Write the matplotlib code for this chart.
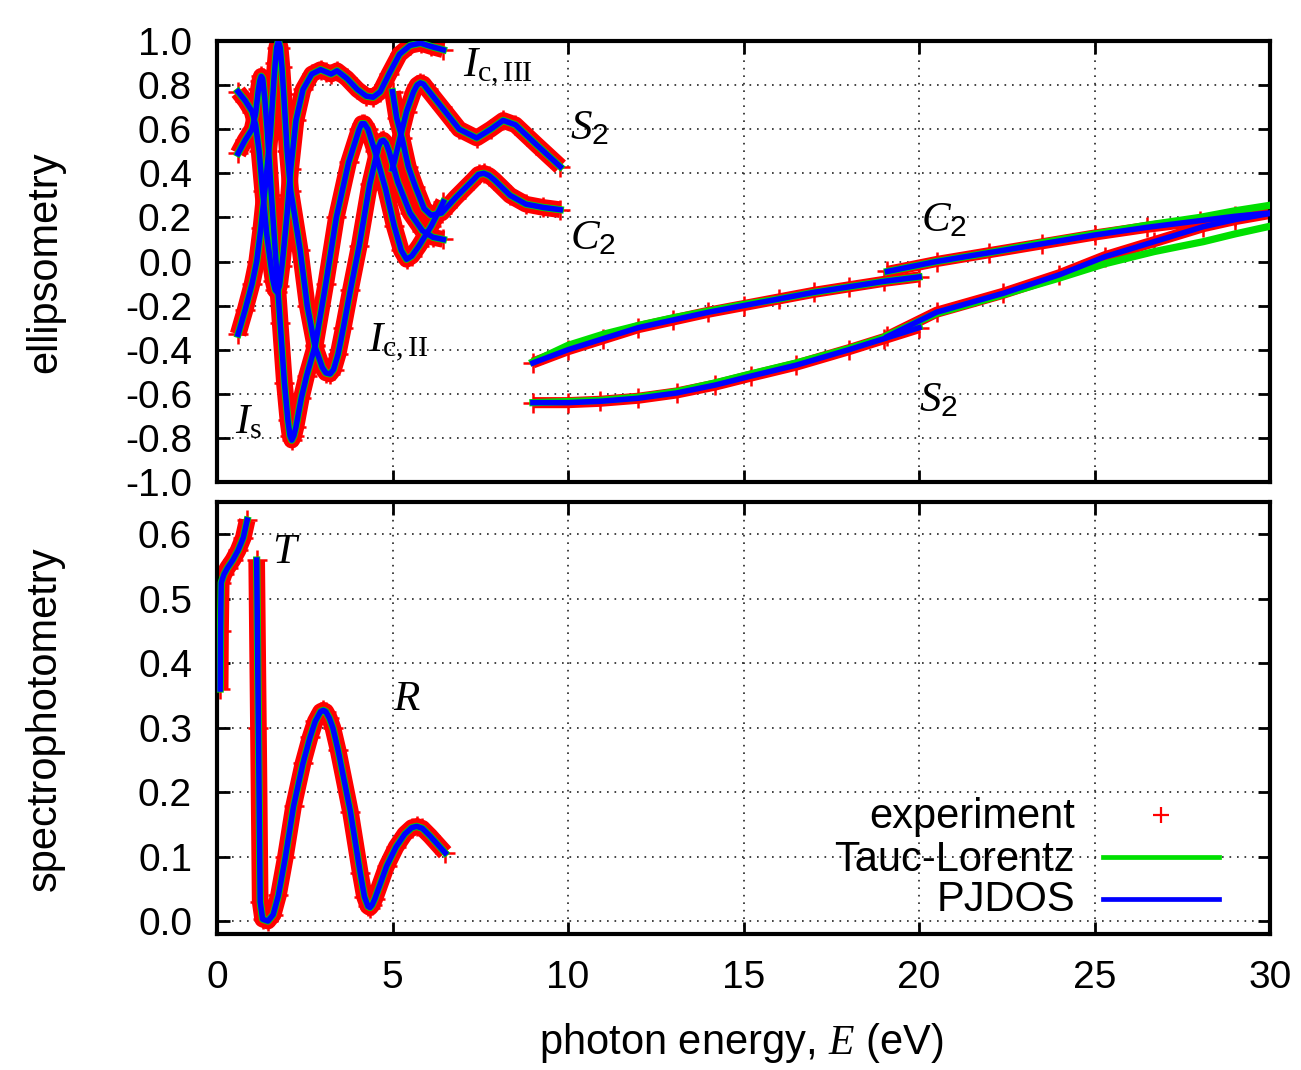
import matplotlib
matplotlib.use("Agg")
import matplotlib.pyplot as plt
from matplotlib.lines import Line2D

plt.rcParams['font.family'] = ['Liberation Sans', 'DejaVu Sans']
plt.rcParams['mathtext.fontset'] = 'custom'
plt.rcParams['mathtext.it'] = 'Liberation Serif:italic'
plt.rcParams['mathtext.rm'] = 'Liberation Serif'
plt.rcParams['mathtext.sf'] = 'Liberation Sans'

# ---- ellipsometry, low energy group (eV, value) ----
e_Is = [0.6, 0.8, 1.0, 1.1, 1.18, 1.22, 1.26, 1.3, 1.36, 1.43, 1.55, 1.68, 1.8, 1.92, 2.02,
        2.08, 2.13, 2.19, 2.25, 2.4, 2.55, 2.8, 3.1, 3.4, 3.75, 4.05, 4.12, 4.2, 4.3, 4.5,
        4.8, 5.05, 5.25, 5.4, 5.55, 5.75, 6.1, 6.45]
Is = [0.49, 0.55, 0.6, 0.67, 0.78, 0.82, 0.84, 0.83, 0.74, 0.6, 0.3, 0.0, -0.28, -0.55, -0.72,
      -0.79, -0.81, -0.79, -0.75, -0.62, -0.52, -0.38, -0.1, 0.2, 0.45, 0.6, 0.625, 0.625, 0.6,
      0.5, 0.33, 0.16, 0.05, 0.01, 0.025, 0.07, 0.16, 0.27]

e_Ic2 = [0.6, 0.8, 1.0, 1.13, 1.25, 1.4, 1.52, 1.62, 1.66, 1.7, 1.75, 1.8, 1.85, 1.9, 2.0,
         2.1, 2.37, 2.57, 2.79, 3.0, 3.1, 3.22, 3.32, 3.45, 3.6, 3.8, 4.05, 4.35, 4.6, 4.67,
         4.74, 4.82, 4.9, 5.15, 5.5, 5.85, 6.15, 6.45]
Ic2 = [-0.33, -0.22, -0.1, 0.0, 0.15, 0.38, 0.58, 0.82, 0.9, 0.97, 1.0, 0.97, 0.88, 0.76, 0.5,
       0.32, 0.05, -0.2, -0.385, -0.48, -0.505, -0.51, -0.49, -0.42, -0.3, -0.13, 0.07, 0.35,
       0.52, 0.545, 0.55, 0.535, 0.5, 0.36, 0.22, 0.14, 0.11, 0.10]

e_Ic3 = [0.6, 0.8, 1.0, 1.1, 1.2, 1.3, 1.42, 1.52, 1.6, 1.66, 1.72, 1.78, 1.85, 1.92, 2.0,
         2.1, 2.25, 2.45, 2.7, 2.95, 3.1, 3.25, 3.42, 3.7, 4.0, 4.25, 4.45, 4.65, 4.9, 5.2,
         5.5, 5.8, 6.1, 6.45]
Ic3 = [0.77, 0.73, 0.68, 0.62, 0.5, 0.32, 0.12, 0.0, -0.09, -0.13, -0.14, -0.11, -0.02, 0.09,
       0.22, 0.42, 0.64, 0.78, 0.85, 0.87, 0.86, 0.85, 0.865, 0.83, 0.78, 0.75, 0.745, 0.77,
       0.85, 0.94, 0.98, 0.99, 0.975, 0.96]

e_S2a = [5.0, 5.2, 5.4, 5.6, 5.7, 5.79, 5.88, 6.0, 6.4, 6.9, 7.4, 7.8, 8.15, 8.5, 9.1, 9.78]
S2a = [0.42, 0.55, 0.68, 0.77, 0.8, 0.81, 0.805, 0.78, 0.7, 0.6, 0.56, 0.6, 0.64, 0.62,
       0.53, 0.43]

e_C2a = [5.0, 5.12, 5.27, 5.45, 5.65, 5.9, 6.1, 6.4, 6.8, 7.3, 7.45, 7.6, 7.75, 7.9, 8.35,
         8.8, 9.3, 9.78]
C2a = [0.77, 0.65, 0.56, 0.43, 0.34, 0.24, 0.21, 0.22, 0.29, 0.37, 0.395, 0.40, 0.39, 0.37,
       0.3, 0.26, 0.245, 0.235]

# ---- ellipsometry, high energy group ----
e_C2b = [9.0, 10, 11, 12, 13, 14, 15, 16, 17, 18, 19, 20]
C2b = [-0.46, -0.40, -0.35, -0.30, -0.265, -0.23, -0.20, -0.17, -0.14, -0.115, -0.09, -0.07]
C2b_tl = [-0.455, -0.38, -0.33, -0.29, -0.255, -0.225, -0.195, -0.17, -0.14, -0.115, -0.09, -0.07]

e_C2c = [19.1, 20.5, 22.0, 23.5, 25.0, 26.5, 28.0, 29.0, 30.0]
C2c = [-0.045, 0.0, 0.04, 0.08, 0.12, 0.155, 0.185, 0.205, 0.22]
C2c_tl = [-0.045, 0.0, 0.04, 0.085, 0.125, 0.165, 0.2, 0.23, 0.255]

e_S2b = [9.0, 10.0, 10.9, 12.0, 13.1, 14.2, 15.2, 16.5, 18.0, 19.0, 20.0]
S2b = [-0.64, -0.64, -0.634, -0.62, -0.596, -0.56, -0.52, -0.47, -0.40, -0.35, -0.30]
S2b_tl = [-0.64, -0.635, -0.63, -0.615, -0.59, -0.55, -0.51, -0.46, -0.395, -0.345, -0.295]

e_S2c = [19.1, 20.5, 22.4, 24.0, 25.3, 26.7, 28.1, 29.0, 30.0]
S2c = [-0.34, -0.23, -0.144, -0.06, 0.022, 0.09, 0.158, 0.19, 0.218]
S2c_tl = [-0.335, -0.235, -0.15, -0.075, -0.01, 0.045, 0.09, 0.125, 0.16]

# ---- spectrophotometry ----
e_T = [0.09, 0.1, 0.12, 0.2, 0.3, 0.45, 0.6, 0.75, 0.86]
T = [0.36, 0.45, 0.525, 0.538, 0.548, 0.56, 0.575, 0.595, 0.622]

e_R = [1.13, 1.18, 1.23, 1.3, 1.45, 1.6, 1.75, 1.95, 2.18, 2.45, 2.65, 2.8, 2.95, 3.03, 3.1,
       3.2, 3.3, 3.45, 3.8, 4.08, 4.2, 4.3, 4.36, 4.42, 4.5, 4.83, 5.1, 5.35, 5.55, 5.69, 5.85,
       6.07, 6.5]
R = [0.56, 0.3, 0.03, 0.003, 0.0, 0.01, 0.04, 0.10, 0.178, 0.245, 0.285, 0.31, 0.325, 0.327,
     0.325, 0.315, 0.3, 0.265, 0.17, 0.075, 0.038, 0.023, 0.021, 0.025, 0.035, 0.085, 0.115,
     0.135, 0.145, 0.147, 0.144, 0.132, 0.106]

RED, GREEN, BLUE = '#ff0000', '#00e000', '#0000ff'


def draw(ax, e, y, y_tl=None, band=12):
    ax.plot(e, y, color=RED, lw=band, solid_capstyle='butt', solid_joinstyle='round', zorder=2)
    ax.plot(e, y, ls='none', marker='+', ms=14, mew=1.8, color=RED, zorder=2)
    ax.plot(e, y if y_tl is None else y_tl, color=GREEN, lw=5.2,
            solid_joinstyle='round', zorder=3)
    ax.plot(e, y, color=BLUE, lw=4.0, solid_joinstyle='round', zorder=4)


def style(ax):
    for s in ax.spines.values():
        s.set_linewidth(3)
    ax.tick_params(direction='in', length=9, width=2, top=True, right=True,
                   labelsize=28)
    ax.tick_params(axis='y', pad=18)
    ax.tick_params(axis='x', pad=19)
    ax.grid(True, color='#222222', lw=1.2, ls=(0, (1, 3.5)))
    ax.set_axisbelow(True)
    ax.set_xlim(0, 30)
    ax.set_xticks(range(0, 31, 5))


fig = plt.figure(figsize=(13.01, 10.70), dpi=100)
ax1 = fig.add_axes([0.1668, 0.5495, 0.8094, 0.4122])
ax2 = fig.add_axes([0.1668, 0.1271, 0.8094, 0.4037])

for e, y in [(e_Is, Is), (e_Ic2, Ic2), (e_Ic3, Ic3), (e_S2a, S2a), (e_C2a, C2a)]:
    draw(ax1, e, y)
draw(ax1, e_C2b, C2b, C2b_tl, band=8)
draw(ax1, e_C2c, C2c, C2c_tl, band=8)
draw(ax1, e_S2b, S2b, S2b_tl, band=8)
draw(ax1, e_S2c, S2c, S2c_tl, band=8)

style(ax1)
ax1.set_ylim(-1.0, 1.0)
ax1.set_yticks([i / 10 for i in range(-10, 11, 2)])
ax1.set_yticklabels([f'{i / 10:.1f}' for i in range(-10, 11, 2)])
ax1.tick_params(labelbottom=False)

lab = dict(fontsize=31, va='baseline', ha='left', zorder=6)
ax1.text(7.0, 0.84, r'$I_{\mathrm{c,III}}$', **lab)
ax1.text(10.07, 0.555, r'$S_{\mathsf{2}}$', **lab)
ax1.text(10.07, 0.055, r'$C_{\mathsf{2}}$', **lab)
ax1.text(4.3, -0.41, r'$I_{\mathrm{c,II}}$', **lab)
ax1.text(0.5, -0.78, r'$I_{\mathrm{s}}$', **lab)
ax1.text(20.05, 0.136, r'$C_{\mathsf{2}}$', **lab)
ax1.text(20.0, -0.68, r'$S_{\mathsf{2}}$', **lab)

draw(ax2, e_T, T)
draw(ax2, e_R, R)
style(ax2)
ax2.set_ylim(-0.02, 0.65)
ax2.set_yticks([i / 10 for i in range(0, 7)])
ax2.set_yticklabels([f'{i / 10:.1f}' for i in range(0, 7)])
ax2.text(1.57, 0.556, r'$T$', **lab)
ax2.text(5.02, 0.327, r'$R$', **lab)

# legend, gnuplot style: right aligned text, sample to the right
tf = ax2.transAxes
for yb, name in [(0.245, 'experiment'), (0.146, 'Tauc-Lorentz'), (0.053, 'PJDOS')]:
    ax2.text(0.8148, yb, name, transform=tf, ha='right', va='baseline', fontsize=30)
ax2.add_line(Line2D([0.8965], [0.2755], transform=tf, ls='none', marker='+', ms=11,
                    mew=1.6, color=RED))
ax2.add_line(Line2D([0.8414, 0.9516], [0.178, 0.178], transform=tf, color=GREEN, lw=3.4))
ax2.add_line(Line2D([0.8414, 0.9516], [0.081, 0.081], transform=tf, color=BLUE, lw=3.4))

fig.text(0.0346, 0.755, 'ellipsometry', rotation=90, ha='center', va='center', fontsize=30)
fig.text(0.0346, 0.328, 'spectrophotometry', rotation=90, ha='center', va='center', fontsize=30)
fig.text(0.570, 0.0252, r'photon energy, $E$ (eV)', ha='center', va='center', fontsize=30)

fig.savefig('out.png', dpi=100)
